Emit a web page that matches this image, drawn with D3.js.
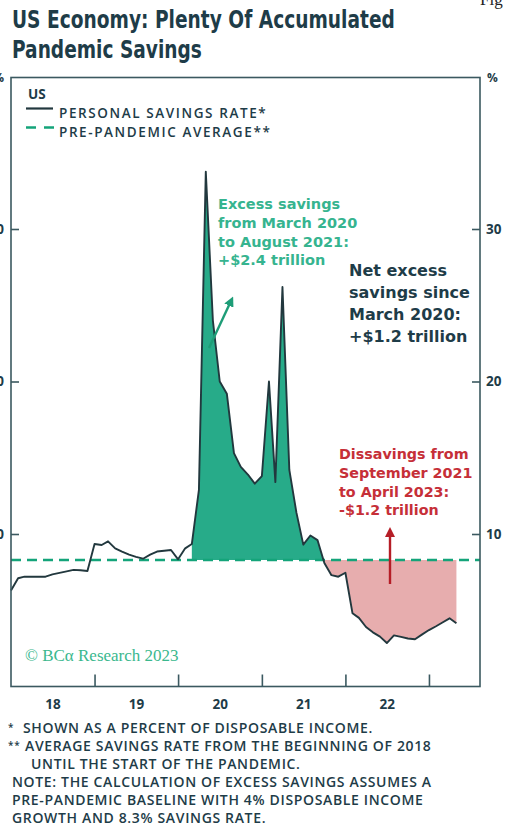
<!DOCTYPE html>
<html>
<head>
<meta charset="utf-8">
<script src="https://cdn.jsdelivr.net/npm/d3@7"></script>
<style>
  html, body { margin: 0; padding: 0; background: #ffffff; }
  svg { display: block; }
</style>
</head>
<body>
<svg id="chart" width="506" height="828"></svg>
<script>
// ---- data -------------------------------------------------------------
// US personal savings rate, % of disposable income, monthly from Dec 2017
const firstMonth = "2017-12";
const savingsRate = [
  6.3, 7.1, 7.2, 7.2, 7.2, 7.2, 7.35, 7.45, 7.55, 7.65, 7.62, 7.57,
  9.34, 9.28, 9.52, 9.06, 8.85, 8.65, 8.5, 8.38, 8.65, 8.85, 8.9, 8.95,
  8.34, 9.06, 9.34, 12.9, 33.76, 24.0, 20.0, 19.2, 15.3, 14.4, 13.9, 13.3,
  13.8, 20.0, 13.4, 26.2, 14.2, 11.4, 9.3, 9.9, 9.6, 8.1, 7.3, 7.2,
  7.46, 4.8, 4.5, 3.9, 3.55, 3.27, 2.85, 3.35, 3.25, 3.15, 3.1, 3.4,
  3.7, 3.95, 4.2, 4.47, 4.15
];
const prePandemicAverage = 8.3;
const excessStart = "2020-02";      // last pre-pandemic month; excess savings begin after it
const yTicks = [10, 20, 30];
const yearTicks = ["2019", "2020", "2021", "2022", "2023"];
const yearLabels = ["2018", "2019", "2020", "2021", "2022"];

const titleLines = ["US Economy: Plenty Of Accumulated", "Pandemic Savings"];
const legendItems = ["PERSONAL SAVINGS RATE*", "PRE-PANDEMIC AVERAGE**"];
const noteGreen = ["Excess savings", "from March 2020", "to August 2021:", "+$2.4 trillion"];
const noteNet = ["Net excess", "savings since", "March 2020:", "+$1.2 trillion"];
const noteRed = ["Dissavings from", "September 2021", "to April 2023:", "-$1.2 trillion"];
const footnotes = [
  ["*", "SHOWN AS A PERCENT OF DISPOSABLE INCOME."],
  ["**", "AVERAGE SAVINGS RATE FROM THE BEGINNING OF 2018"],
  ["", "UNTIL THE START OF THE PANDEMIC."],
  ["", "NOTE: THE CALCULATION OF EXCESS SAVINGS ASSUMES A"],
  ["", "PRE-PANDEMIC BASELINE WITH 4% DISPOSABLE INCOME"],
  ["", "GROWTH AND 8.3% SAVINGS RATE."]
];

// ---- styles -----------------------------------------------------------
const C = {
  ink: "#1e3c48",
  frame: "#3b5960",
  line: "#22383e",
  green: "#27ab89",
  greenText: "#36b48f",
  greenArrow: "#1e9d77",
  dash: "#14a47a",
  red: "#e7adae",
  redText: "#c62f38",
  redArrow: "#b51d26",
  copy: "#3ab88e"
};
const titleFont = "'DejaVu Sans', sans-serif";
const noteFont = "'DejaVu Sans', sans-serif";
const smallFont = "'Open Sans', Lato, sans-serif";

// ---- derived series ---------------------------------------------------
const parseMonth = d3.timeParse("%Y-%m");
const start = parseMonth(firstMonth);
// each monthly reading is placed at the close of its month
const series = savingsRate.map((v, i) => {
  const m = d3.timeMonth.offset(start, i);
  return { month: m, date: d3.timeMonth.offset(m, 1), value: v };
});

const svg = d3.select("#chart");

const plot = { left: 11, right: 480, top: 76.5, bottom: 686.5 };
const x = d3.scaleTime()
  .domain([new Date(2018, 0, 1), new Date(2023, 7, 12)])
  .range([plot.left, plot.right]);
const y = d3.scaleLinear().domain([0, 40]).range([plot.bottom, plot.top]);

// ---- fills: excess (green) and dissavings (red) -----------------------
const excessFrom = parseMonth(excessStart);
const iStart = series.findIndex(d => +d.month === +excessFrom);
let iCross = iStart;
while (iCross < series.length && series[iCross].value >= prePandemicAverage) iCross++;
const a = series[iCross - 1], b = series[iCross];
const t = (a.value - prePandemicAverage) / (a.value - b.value);
const crossing = {
  date: new Date(+a.date + t * (b.date - a.date)),
  value: prePandemicAverage
};
const greenPart = series.slice(iStart, iCross).concat([crossing]);
const redPart = [crossing].concat(series.slice(iCross));

const area = d3.area()
  .x(d => x(d.date))
  .y0(y(prePandemicAverage))
  .y1(d => y(d.value));

svg.append("path").datum(greenPart).attr("d", area).attr("fill", C.green);
svg.append("path").datum(redPart).attr("d", area).attr("fill", C.red);

// ---- pre-pandemic average (dashed) ------------------------------------
svg.append("line")
  .attr("x1", plot.left).attr("x2", plot.right)
  .attr("y1", y(prePandemicAverage)).attr("y2", y(prePandemicAverage))
  .attr("stroke", C.dash).attr("stroke-width", 2.4)
  .attr("stroke-dasharray", "10,6");

// ---- savings-rate line ------------------------------------------------
const line = d3.line().x(d => x(d.date)).y(d => y(d.value));
svg.append("path").datum(series)
  .attr("d", line)
  .attr("fill", "none")
  .attr("stroke", C.line)
  .attr("stroke-width", 1.9)
  .attr("stroke-linejoin", "round");

// ---- frame and axes ---------------------------------------------------
svg.append("rect")
  .attr("x", plot.left).attr("y", plot.top + 1)
  .attr("width", plot.right - plot.left).attr("height", plot.bottom - plot.top - 1)
  .attr("fill", "none").attr("stroke", C.frame).attr("stroke-width", 1.6);

function styleAxis(g) {
  g.select(".domain").remove();
  g.selectAll(".tick line").attr("stroke", C.frame).attr("stroke-width", 1.6);
  g.selectAll(".tick text")
    .attr("fill", C.ink)
    .attr("font-family", smallFont)
    .attr("font-weight", 700)
    .attr("font-size", 13.5);
}

svg.append("g")
  .attr("transform", `translate(${plot.right},0)`)
  .call(d3.axisRight(y).tickValues(yTicks).tickSize(-8).tickPadding(6))
  .call(styleAxis);

svg.append("g")
  .attr("transform", `translate(${plot.left},0)`)
  .call(d3.axisLeft(y).tickValues(yTicks).tickSize(-8).tickPadding(7))
  .call(styleAxis);

svg.append("text").text("%")
  .attr("x", 487).attr("y", 82)
  .attr("fill", C.ink).attr("font-family", smallFont)
  .attr("font-weight", 700).attr("font-size", 12);
svg.append("text").text("%")
  .attr("x", 4).attr("y", 82).attr("text-anchor", "end")
  .attr("fill", C.ink).attr("font-family", smallFont)
  .attr("font-weight", 700).attr("font-size", 12);

const parseYear = d3.timeParse("%Y");
svg.append("g")
  .attr("transform", `translate(0,${plot.bottom})`)
  .call(d3.axisBottom(x).tickValues(yearTicks.map(parseYear)).tickSize(-12).tickFormat(""))
  .call(styleAxis);

svg.append("g")
  .attr("transform", `translate(0,${plot.bottom})`)
  .call(d3.axisBottom(x)
    .tickValues(yearLabels.map(s => d3.timeMonth.offset(parseYear(s), 6)))
    .tickSize(0).tickPadding(13)
    .tickFormat(d3.timeFormat("%y")))
  .call(styleAxis);

// ---- title (bold face, squeezed horizontally to a condensed width) ------
const titleWidths = [383, 190];
svg.append("g").selectAll("text").data(titleLines).join("text")
  .attr("x", 0).attr("y", 0)
  .attr("fill", C.ink).attr("font-family", titleFont)
  .attr("font-weight", 700).attr("font-size", 24.5)
  .text(d => d)
  .each(function (d, i) {
    const natural = this.getComputedTextLength();
    d3.select(this).attr("transform",
      `translate(12,${28 + i * 30}) scale(${titleWidths[i] / natural},1)`);
  });

svg.append("text").text("Fig")
  .attr("x", 480).attr("y", 5)
  .attr("fill", "#222").attr("font-family", "'Liberation Serif', serif")
  .attr("font-size", 17);

// ---- legend -----------------------------------------------------------
svg.append("text").text("US")
  .attr("x", 28).attr("y", 99)
  .attr("fill", C.ink).attr("font-family", smallFont)
  .attr("font-weight", 700).attr("font-size", 13.5);

svg.append("line")
  .attr("x1", 26).attr("x2", 53).attr("y1", 108.5).attr("y2", 108.5)
  .attr("stroke", C.line).attr("stroke-width", 2.2);
svg.append("line")
  .attr("x1", 26).attr("x2", 55).attr("y1", 127.5).attr("y2", 127.5)
  .attr("stroke", C.dash).attr("stroke-width", 2.4)
  .attr("stroke-dasharray", "10,8");

svg.append("g").selectAll("text").data(legendItems).join("text")
  .attr("x", 59).attr("y", (d, i) => 117.5 + i * 19)
  .attr("fill", C.ink).attr("font-family", smallFont)
  .attr("font-weight", 600).attr("font-size", 13.5)
  .attr("letter-spacing", 1.6)
  .text(d => d);

// ---- annotations ------------------------------------------------------
function block(lines, x0, y0, dy, size, color) {
  svg.append("g").selectAll("text").data(lines).join("text")
    .attr("x", x0).attr("y", (d, i) => y0 + i * dy)
    .attr("fill", color).attr("font-family", noteFont)
    .attr("font-weight", 700).attr("font-size", size)
    .text(d => d);
}
block(noteGreen, 218, 209, 18.8, 14.5, C.greenText);
block(noteNet, 349, 276, 22, 16, C.ink);
block(noteRed, 339, 459, 18.8, 14.3, C.redText);

// arrows
const defs = svg.append("defs");
function marker(id, color) {
  defs.append("marker")
    .attr("id", id).attr("viewBox", "0 0 10 10")
    .attr("refX", 5).attr("refY", 5)
    .attr("markerWidth", 4.2).attr("markerHeight", 4.2)
    .attr("orient", "auto")
    .append("path").attr("d", "M0,0 L10,5 L0,10 Z").attr("fill", color);
}
marker("headGreen", C.greenArrow);
marker("headRed", C.redArrow);

svg.append("line")
  .attr("x1", 209).attr("y1", 348).attr("x2", 231).attr("y2", 301)
  .attr("stroke", C.greenArrow).attr("stroke-width", 2.4)
  .attr("marker-end", "url(#headGreen)");
svg.append("line")
  .attr("x1", 390).attr("y1", 584).attr("x2", 390).attr("y2", 532)
  .attr("stroke", C.redArrow).attr("stroke-width", 2.4)
  .attr("marker-end", "url(#headRed)");

// ---- copyright --------------------------------------------------------
svg.append("text").text("© BCα Research 2023")
  .attr("x", 25).attr("y", 661)
  .attr("fill", C.copy).attr("font-family", "'Liberation Serif', 'DejaVu Serif', serif")
  .attr("font-size", 17);

// ---- footnotes --------------------------------------------------------
const fn = svg.append("g")
  .attr("fill", C.ink).attr("font-family", smallFont)
  .attr("font-weight", 600).attr("font-size", 14)
  .attr("letter-spacing", 0.65);
const fnX = [23, 25, 31, 12, 12, 12];
const fnY = [733, 751, 769, 787, 805, 823];
footnotes.forEach((f, i) => {
  if (f[0]) fn.append("text").attr("x", 8).attr("y", fnY[i] - 2).attr("font-size", 10).text(f[0]);
  fn.append("text").attr("x", fnX[i]).attr("y", fnY[i]).text(f[1]);
});
</script>
</body>
</html>
